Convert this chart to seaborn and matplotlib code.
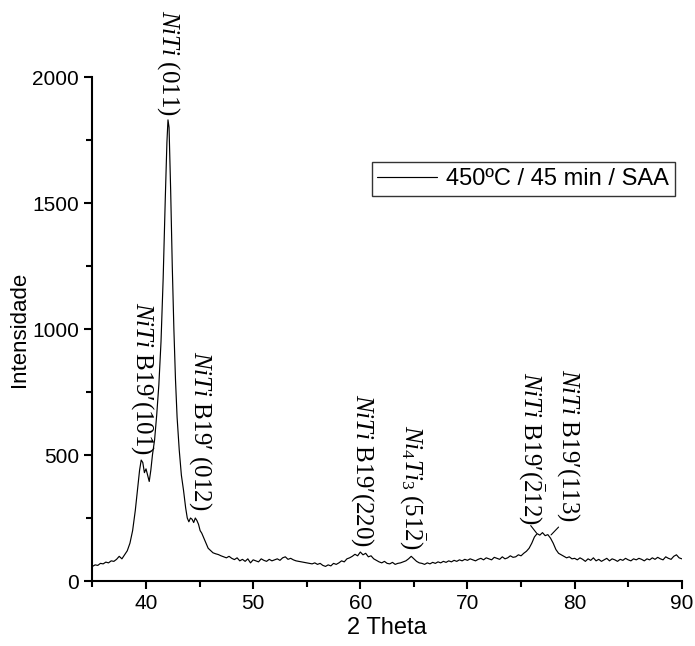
import numpy as np
import pandas as pd
import seaborn as sns
import matplotlib.pyplot as plt

# XRD pattern (2 theta in degrees, intensity in counts)
two_theta = [
    35.0, 35.25, 35.5, 35.75, 36.0, 36.25, 36.5, 36.75, 37.0, 37.25, 37.5, 37.75,
    38.0, 38.25, 38.5, 38.75, 39.0, 39.2, 39.4, 39.55, 39.7, 39.85, 40.0, 40.15,
    40.3, 40.45, 40.6, 40.8, 41.0, 41.2, 41.4, 41.6, 41.8, 41.95, 42.05, 42.15,
    42.3, 42.45, 42.6, 42.75, 42.9, 43.1, 43.3, 43.5, 43.7, 43.85, 44.0, 44.15,
    44.3, 44.45, 44.6, 44.75, 44.9, 45.05, 45.2, 45.4, 45.6, 45.8, 46.0, 46.25,
    46.5, 46.75, 47.0, 47.25, 47.5, 47.75, 48.0, 48.25, 48.5, 48.75, 49.0, 49.25,
    49.5, 49.75, 50.0, 50.25, 50.5, 50.75, 51.0, 51.25, 51.5, 51.75, 52.0, 52.25,
    52.5, 52.75, 53.0, 53.25, 53.5, 53.75, 54.0, 54.25, 54.5, 54.75, 55.0, 55.25,
    55.5, 55.75, 56.0, 56.25, 56.5, 56.75, 57.0, 57.25, 57.5, 57.75, 58.0, 58.25,
    58.5, 58.75, 59.0, 59.25, 59.5, 59.75, 60.0, 60.25, 60.5, 60.75, 61.0, 61.25,
    61.5, 61.75, 62.0, 62.25, 62.5, 62.75, 63.0, 63.25, 63.5, 63.75, 64.0, 64.25,
    64.5, 64.75, 65.0, 65.25, 65.5, 65.75, 66.0, 66.25, 66.5, 66.75, 67.0, 67.25,
    67.5, 67.75, 68.0, 68.25, 68.5, 68.75, 69.0, 69.25, 69.5, 69.75, 70.0, 70.25,
    70.5, 70.75, 71.0, 71.25, 71.5, 71.75, 72.0, 72.25, 72.5, 72.75, 73.0, 73.25,
    73.5, 73.75, 74.0, 74.25, 74.5, 74.75, 75.0, 75.25, 75.5, 75.75, 76.0, 76.25,
    76.5, 76.75, 77.0, 77.25, 77.5, 77.75, 78.0, 78.25, 78.5, 78.75, 79.0, 79.25,
    79.5, 79.75, 80.0, 80.25, 80.5, 80.75, 81.0, 81.25, 81.5, 81.75, 82.0, 82.25,
    82.5, 82.75, 83.0, 83.25, 83.5, 83.75, 84.0, 84.25, 84.5, 84.75, 85.0, 85.25,
    85.5, 85.75, 86.0, 86.25, 86.5, 86.75, 87.0, 87.25, 87.5, 87.75, 88.0, 88.25,
    88.5, 88.75, 89.0, 89.25, 89.5, 89.75, 90.0,
]
intensity = [
    58, 64, 62, 70, 68, 75, 72, 80, 78, 86, 98, 88,
    104, 120, 150, 200, 280, 360, 440, 480, 470, 430, 445, 420,
    395, 440, 500, 560, 660, 780, 950, 1200, 1520, 1740, 1830, 1800,
    1550, 1250, 1000, 800, 650, 520, 420, 360, 290, 250, 235, 250,
    245, 232, 250, 240, 225, 200, 190, 170, 150, 130, 122, 112,
    108, 105, 100, 96, 92, 98, 90, 85, 92, 80, 86, 78,
    88, 72, 84, 80, 76, 88, 82, 78, 86, 80, 84, 88,
    82, 92, 96, 86, 90, 84, 80, 78, 76, 74, 72, 70,
    68, 72, 66, 70, 62, 58, 64, 60, 70, 66, 72, 80,
    76, 88, 92, 98, 106, 100, 115, 104, 110, 96, 100, 88,
    82, 76, 72, 78, 70, 68, 74, 66, 70, 72, 76, 80,
    88, 98, 88, 78, 72, 70, 66, 72, 68, 74, 70, 76,
    72, 78, 74, 80, 76, 82, 78, 84, 80, 86, 82, 88,
    84, 80, 86, 90, 84, 92, 88, 84, 94, 90, 86, 96,
    88, 92, 100, 94, 96, 104, 100, 110, 118, 130, 150, 175,
    188, 182, 192, 180, 184, 170, 150, 125, 110, 104, 98, 92,
    96, 88, 90, 84, 92, 86, 78, 88, 82, 92, 80, 86,
    78, 84, 90, 80, 88, 84, 78, 86, 82, 90, 84, 80,
    88, 84, 90, 86, 80, 88, 84, 92, 86, 94, 88, 84,
    96, 90, 86, 98, 104, 92, 88,
]

# peak labels: (text, x, y of label bottom)
peak_labels = [
    (r"$NiTi$ (011)", 42.05, 1845),
    (r"$NiTi$ B19′(101)", 39.7, 500),
    (r"$NiTi$ B19′ (012)", 45.1, 282),
    (r"$NiTi$ B19′(220)", 60.2, 135),
    (r"$Ni_4Ti_3$ (51$\bar{2}$)", 64.95, 123),
    (r"$NiTi$ B19′($\bar{2}$12)", 76.0, 222),
    (r"$NiTi$ B19′(113)", 79.45, 234),
]
# short leader lines from label to peak
leaders = [((75.9, 220), (76.45, 190)), ((78.5, 214), (77.8, 183))]

df = pd.DataFrame({"2 Theta": two_theta, "Intensidade": intensity})

sns.set_theme(style="ticks")
plt.rcParams["font.family"] = ["Liberation Sans", "DejaVu Sans"]
plt.rcParams["text.color"] = "black"
plt.rcParams["axes.labelcolor"] = "black"
plt.rcParams["mathtext.fontset"] = "custom"
plt.rcParams["mathtext.rm"] = "Liberation Serif"
plt.rcParams["mathtext.it"] = "Liberation Serif:italic"

fig = plt.figure(figsize=(6.95, 6.46), dpi=100)
ax = fig.add_axes([0.133, 0.1006, 0.848, 0.7802])

sns.lineplot(data=df, x="2 Theta", y="Intensidade", color="black", linewidth=0.85,
             label="450ºC / 45 min / SAA", ax=ax)

ax.set_xlim(35, 90)
ax.set_ylim(0, 2000)
ax.set_xticks([40, 50, 60, 70, 80, 90])
ax.set_xticks([35, 45, 55, 65, 75, 85], minor=True)
ax.set_yticks([0, 500, 1000, 1500, 2000])
ax.set_yticks([250, 750, 1250, 1750], minor=True)
for side in ["top", "right"]:
    ax.spines[side].set_visible(False)
for side in ["left", "bottom"]:
    ax.spines[side].set_linewidth(1.5)
    ax.spines[side].set_color("black")
ax.tick_params(which="major", length=6, width=1.5, colors="black", labelsize=15, direction="out")
ax.tick_params(which="minor", length=4, width=1.5, colors="black", direction="out")
ax.set_xlabel("2 Theta", fontsize=17, labelpad=3)
ax.set_ylabel("Intensidade", fontsize=16, labelpad=2)

for txt, x, y in peak_labels:
    ax.text(x, y, txt, rotation=270, ha="center", va="bottom", fontsize=18,
            family="Liberation Serif", clip_on=False)
for (x0, y0), (x1, y1) in leaders:
    ax.plot([x0, x1], [y0, y1], color="black", linewidth=0.8)

leg = ax.legend(loc="upper right", bbox_to_anchor=(0.988, 0.831), borderaxespad=0,
                fontsize=17, frameon=True, fancybox=False, handlelength=2.5,
                handletextpad=0.4, borderpad=0.25)
leg.get_frame().set_edgecolor("black")
leg.get_frame().set_linewidth(1.0)

fig.savefig("out.png", dpi=100)
